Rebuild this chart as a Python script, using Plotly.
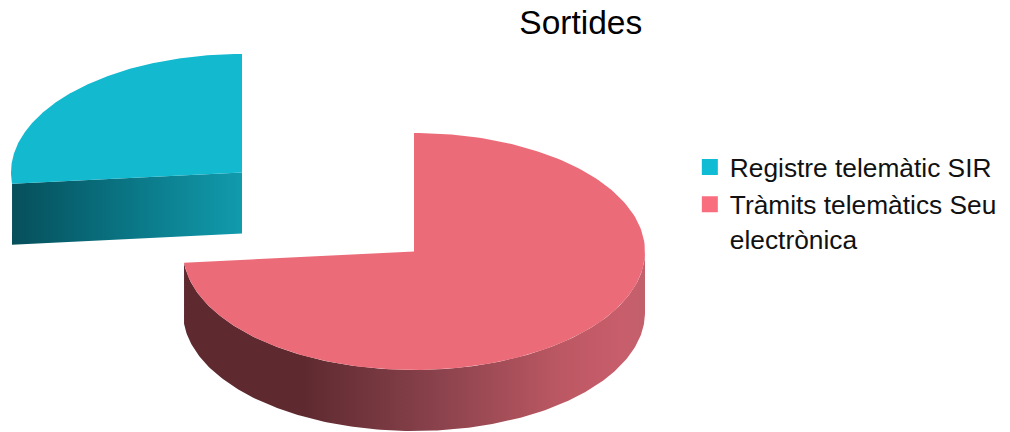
import numpy as np
import plotly.graph_objects as go

categories = ["Registre telemàtic SIR", "Tràmits telemàtics Seu<br>electrònica"]
values = [26.5, 73.5]
title_text = "Sortides"
top_colors = ["#12B9CF", "#EC6B78"]
legend_colors = ["#10BBD4", "#F96E7F"]

RX, RY, DEPTH = 231, 118.5, 61
CENTERS = [(242, 172.5), (414, 251.5)]

shares = np.array(values) / sum(values) * 360
red_end = shares[1]          # red runs clockwise from 12 o'clock
blue_start = red_end


def rim(cx, cy, a0, a1, n=200):
    t = np.radians(np.linspace(a0, a1, n))
    return cx + RX * np.sin(t), cy - RY * np.cos(t)


fig = go.Figure()


def add_poly(x, y, color=None, scale=None):
    kw = dict(fillcolor=color) if color else dict(
        fillgradient=dict(type="horizontal", colorscale=scale))
    fig.add_trace(go.Scatter(x=list(x), y=list(y), mode="lines", fill="toself",
                             line=dict(width=0), showlegend=False, hoverinfo="skip", **kw))


# blue slice (pulled out)
bx, by = CENTERS[0]
rx0, ry0 = rim(bx, by, blue_start, blue_start)
add_poly([rx0[0], bx, bx, rx0[0], rx0[0]],
         [ry0[0], by, by + DEPTH, ry0[0] + DEPTH, ry0[0]],
         scale=[[0, "#064F5B"], [0.5, "#0A7584"], [1, "#119BAD"]])
ax, ay = rim(bx, by, blue_start, 360)
add_poly(np.r_[bx, ax, bx], np.r_[by, ay, by], color=top_colors[0])

# red slice
cx, cy = CENTERS[1]
ox, oy = rim(cx, cy, 90, red_end)
add_poly(np.r_[ox, ox[::-1], ox[0]], np.r_[oy, oy[::-1] + DEPTH, oy[0]],
         scale=[[0, "#5E2A30"], [0.26, "#5E2A30"], [0.55, "#8A424C"],
                [0.82, "#BC5863"], [0.95, "#C85E6B"], [1, "#C2606C"]])
ax, ay = rim(cx, cy, 0, red_end)
add_poly(np.r_[cx, ax, cx], np.r_[cy, ay, cy], color=top_colors[1])

# legend entries
for name, col in zip(categories, legend_colors):
    fig.add_trace(go.Scatter(x=[None], y=[None], mode="markers", name=name,
                             marker=dict(symbol="square", size=16, color=col)))

fig.update_layout(
    width=1010, height=432, margin=dict(l=0, r=0, t=0, b=0),
    paper_bgcolor="white", plot_bgcolor="white",
    font=dict(family="Liberation Sans", color="#111111"),
    title=dict(text=title_text, x=0.575, xanchor="center", y=0.948, yanchor="middle",
               font=dict(size=33.5, color="black")),
    xaxis=dict(range=[0, 1010], visible=False, fixedrange=True),
    yaxis=dict(range=[432, 0], visible=False, fixedrange=True),
    legend=dict(x=0.683, y=0.668, xanchor="left", yanchor="top", font=dict(size=26.3),
                bgcolor="rgba(0,0,0,0)", itemsizing="trace", tracegroupgap=0, valign="top"),
)
fig.write_html("out.html", config=dict(displayModeBar=False),
               post_script="document.body.style.margin='0';")
